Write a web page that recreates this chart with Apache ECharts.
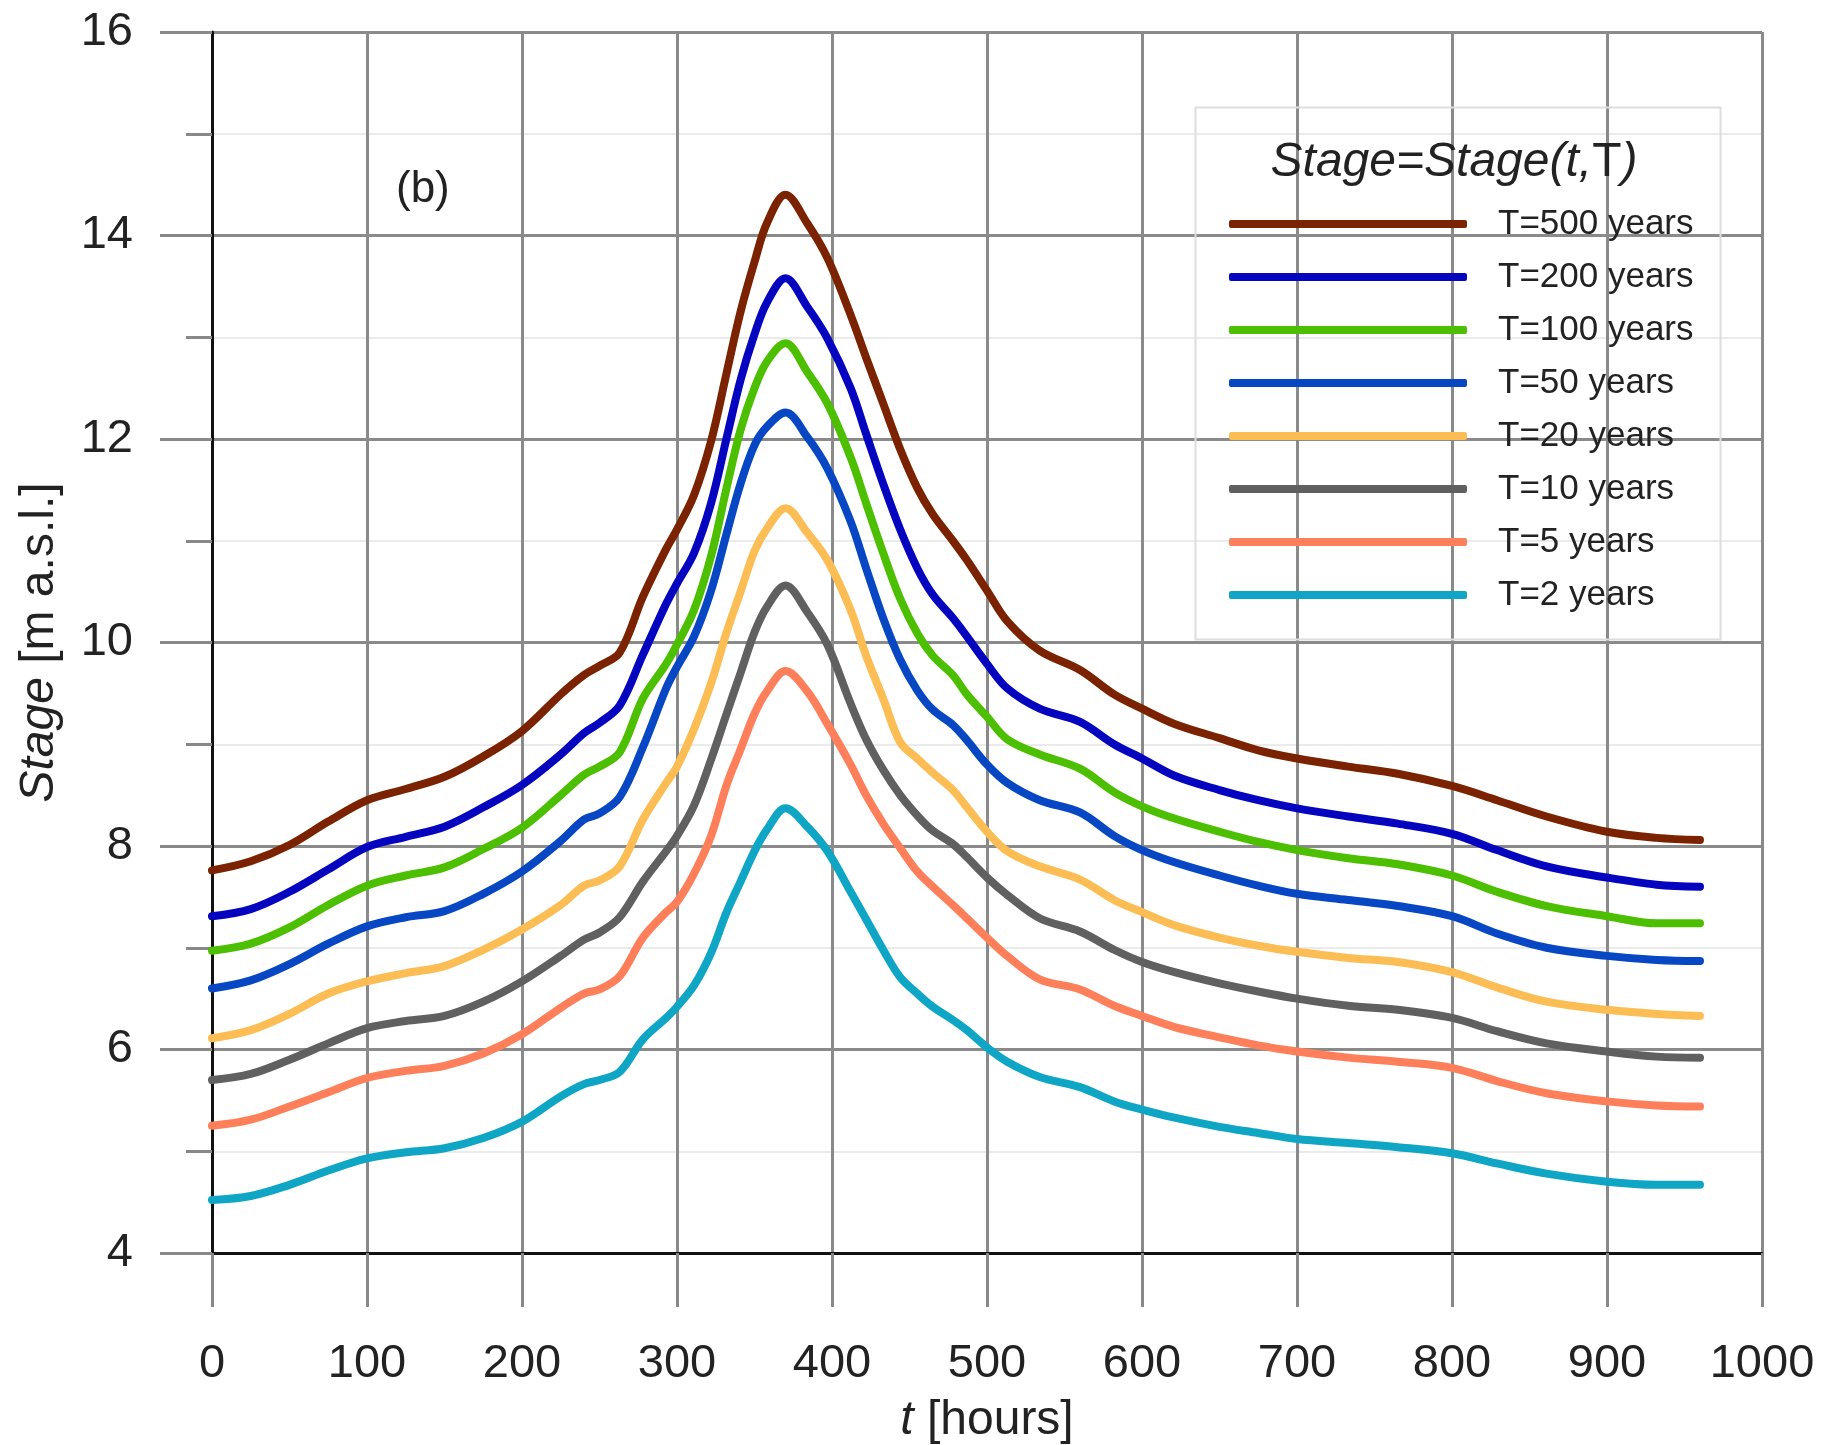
<!DOCTYPE html>
<html>
<head>
<meta charset="utf-8">
<script src="https://cdn.jsdelivr.net/npm/echarts@6/dist/echarts.min.js"></script>
<style>
html,body{margin:0;padding:0;background:#fff;}
#chart{width:1825px;height:1445px;}
</style>
</head>
<body>
<div id="chart"></div>
<script>
// ---- data ----
const hours = [0,25,50,75,100,125,150,175,200,225,240,250,263,278,293,300,311,322,332,341,350,358,370,384,397,412,422,433,444,455,465,478,487,500,513,534,560,582,600,621,650,675,700,733,765,800,829,861,900,932,960];

const seriesNames = ['T=500 years','T=200 years','T=100 years','T=50 years','T=20 years','T=10 years','T=5 years','T=2 years'];

const stage500 = [7.76,7.85,8.01,8.24,8.45,8.56,8.68,8.88,9.13,9.49,9.68,9.77,9.90,10.45,10.92,11.11,11.45,11.98,12.65,13.25,13.74,14.12,14.40,14.12,13.78,13.22,12.80,12.35,11.90,11.52,11.26,11.00,10.81,10.51,10.21,9.92,9.73,9.49,9.35,9.20,9.06,8.94,8.86,8.78,8.71,8.59,8.45,8.29,8.14,8.08,8.06];
const stage200 = [7.31,7.38,7.55,7.77,7.99,8.09,8.19,8.38,8.60,8.90,9.11,9.21,9.38,9.88,10.38,10.58,10.88,11.37,12.01,12.58,13.03,13.34,13.58,13.30,12.99,12.50,12.05,11.56,11.11,10.73,10.47,10.24,10.06,9.79,9.55,9.35,9.22,9.00,8.86,8.69,8.55,8.45,8.37,8.29,8.22,8.12,7.96,7.80,7.69,7.62,7.60];
const stage100 = [6.97,7.04,7.20,7.42,7.61,7.71,7.79,7.97,8.18,8.50,8.70,8.78,8.92,9.45,9.79,9.98,10.32,10.85,11.52,12.09,12.50,12.76,12.94,12.66,12.35,11.82,11.37,10.88,10.43,10.09,9.87,9.68,9.49,9.27,9.05,8.90,8.76,8.53,8.39,8.27,8.14,8.04,7.96,7.88,7.82,7.71,7.55,7.41,7.31,7.24,7.24];
const stage50  = [6.60,6.68,6.84,7.04,7.21,7.30,7.36,7.53,7.75,8.05,8.26,8.32,8.48,8.97,9.55,9.76,10.06,10.51,11.07,11.56,11.94,12.12,12.26,12.02,11.71,11.19,10.73,10.24,9.83,9.53,9.34,9.19,9.04,8.80,8.62,8.45,8.33,8.10,7.96,7.84,7.71,7.61,7.53,7.47,7.41,7.31,7.14,7.00,6.92,6.88,6.87];
const stage20  = [6.11,6.19,6.35,6.55,6.67,6.75,6.82,6.98,7.18,7.42,7.61,7.66,7.80,8.26,8.62,8.78,9.15,9.60,10.10,10.50,10.90,11.12,11.32,11.08,10.81,10.32,9.87,9.45,9.02,8.86,8.72,8.55,8.38,8.14,7.95,7.80,7.67,7.47,7.35,7.22,7.10,7.02,6.96,6.90,6.86,6.76,6.61,6.47,6.39,6.35,6.33];
const stage10  = [5.70,5.76,5.90,6.06,6.21,6.28,6.33,6.47,6.67,6.92,7.08,7.15,7.30,7.65,7.95,8.10,8.40,8.85,9.30,9.70,10.10,10.35,10.56,10.30,9.98,9.40,9.05,8.75,8.50,8.30,8.15,8.02,7.89,7.69,7.52,7.29,7.16,6.98,6.86,6.76,6.65,6.57,6.50,6.43,6.39,6.31,6.18,6.06,5.98,5.93,5.92];
const stage5   = [5.25,5.31,5.44,5.58,5.72,5.79,5.84,5.96,6.15,6.41,6.55,6.59,6.72,7.10,7.35,7.45,7.73,8.10,8.60,8.95,9.30,9.52,9.72,9.52,9.20,8.80,8.50,8.22,7.98,7.75,7.60,7.42,7.29,7.10,6.92,6.69,6.59,6.43,6.33,6.22,6.12,6.04,5.98,5.92,5.88,5.82,5.69,5.57,5.49,5.45,5.44];
const stage2   = [4.52,4.56,4.67,4.81,4.93,4.99,5.03,5.13,5.29,5.54,5.66,5.70,5.78,6.10,6.31,6.42,6.63,6.95,7.35,7.65,7.95,8.16,8.37,8.19,7.95,7.55,7.28,6.98,6.71,6.55,6.42,6.29,6.19,6.02,5.88,5.73,5.63,5.49,5.41,5.33,5.24,5.18,5.12,5.08,5.04,4.98,4.88,4.78,4.70,4.67,4.67];

const xTicks = [0,100,200,300,400,500,600,700,800,900,1000];
const yTicks = [4,6,8,10,12,14,16];

// ---- styling ----
const colors = ['#7B2300','#0505C0','#4BBF00','#0747C4','#FDBD55','#606060','#FF7F5B','#0EA6C4'];
const allStages = [stage500,stage200,stage100,stage50,stage20,stage10,stage5,stage2];
const FONT = '"Liberation Sans", Arial, sans-serif';

const chart = echarts.init(document.getElementById('chart'), null, {renderer:'canvas'});

const option = {
  backgroundColor:'#ffffff',
  animation:false,
  textStyle:{fontFamily:FONT},
  grid:{left:212, top:32, right:63, bottom:192, containLabel:false, outerBoundsMode:'none'},
  xAxis:{
    type:'value', min:xTicks[0], max:xTicks[xTicks.length-1], interval:100,
    name:'{it|t} [hours]',
    nameLocation:'middle', nameGap:144,
    nameTextStyle:{fontSize:48, color:'#222', fontFamily:FONT,
      rich:{it:{fontStyle:'italic', fontSize:48, color:'#222', fontFamily:FONT}}},
    axisLine:{show:true, onZero:false, lineStyle:{color:'#111', width:3}},
    axisTick:{show:true, length:54, lineStyle:{color:'#888', width:3}},
    axisLabel:{fontSize:47, color:'#222', margin:88, fontFamily:FONT,
      formatter:function(v){return String(v);}},
    splitLine:{show:true, lineStyle:{color:'#8a8a8a', width:3}}
  },
  yAxis:{
    type:'value', min:yTicks[0], max:yTicks[yTicks.length-1], interval:2,
    name:'{it|Stage} [m a.s.l.]',
    nameLocation:'middle', nameGap:148, nameRotate:90,
    nameTextStyle:{fontSize:48, color:'#222', fontFamily:FONT,
      rich:{it:{fontStyle:'italic', fontSize:48, color:'#222', fontFamily:FONT}}},
    axisLine:{show:true, onZero:false, lineStyle:{color:'#111', width:3}},
    axisTick:{show:true, length:52, lineStyle:{color:'#888', width:3}},
    minorTick:{show:true, splitNumber:2, length:26, lineStyle:{color:'#888', width:3}},
    minorSplitLine:{show:true, lineStyle:{color:'#ebebeb', width:2}},
    axisLabel:{fontSize:47, color:'#222', margin:79, fontFamily:FONT,
      formatter:function(v){return String(v);}},
    splitLine:{show:true, lineStyle:{color:'#8a8a8a', width:3}}
  },
  title:{
    text:'{it|Stage=Stage(t,}{up|T}{it|)}',
    left:1449, top:134, textAlign:'center',
    textStyle:{fontSize:48, fontWeight:'normal', color:'#222', fontFamily:FONT,
      rich:{
        it:{fontSize:48, fontStyle:'italic', color:'#222', fontFamily:FONT},
        up:{fontSize:48, fontStyle:'normal', color:'#222', fontFamily:FONT}
      }}
  },
  legend:{
    orient:'vertical', left:1224, top:199,
    itemWidth:238, itemHeight:8, itemGap:13,
    icon:'roundRect',
    data:seriesNames,
    textStyle:{fontSize:35, color:'#222', lineHeight:40, padding:[0,0,0,26], fontFamily:FONT}
  },
  graphic:[
    {type:'rect', left:1193, top:105, shape:{width:525, height:532},
     style:{fill:'none', stroke:'#dddddd', lineWidth:2}, silent:true, z:1},
    {type:'text', left:396, top:168,
     style:{text:'(b)', fontSize:44, fill:'#222', fontFamily:FONT}, z:10}
  ],
  series: seriesNames.map((nm,i)=>({
    name:nm, type:'line', smooth:0.35, showSymbol:false, symbol:'none',
    lineStyle:{color:colors[i], width:8, cap:'round', join:'round'},
    itemStyle:{color:colors[i]},
    z:10-i,
    data: hours.map((h,j)=>[h, allStages[i][j]])
  }))
};
chart.setOption(option);
</script>
</body>
</html>
